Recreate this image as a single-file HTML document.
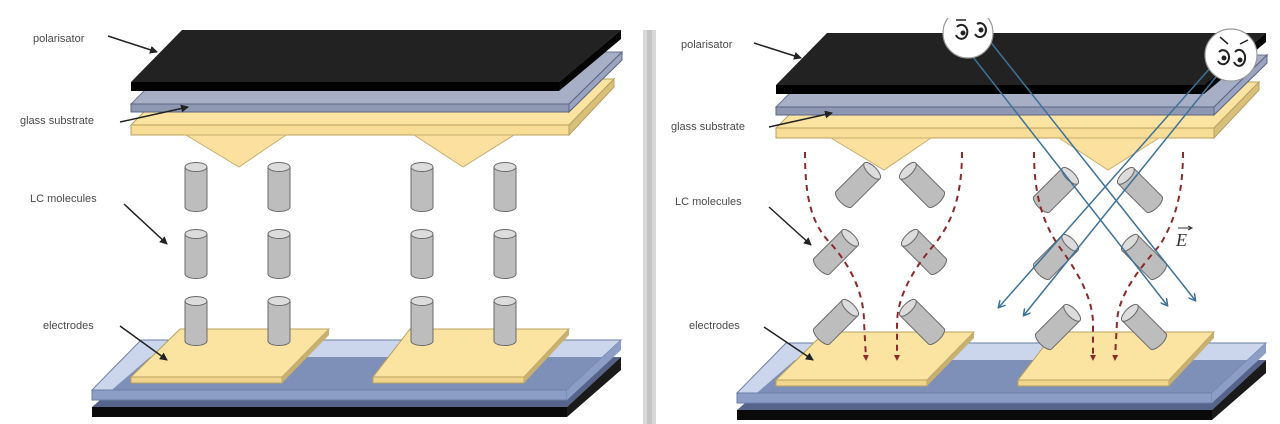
<!DOCTYPE html>
<html><head><meta charset="utf-8"><style>
html,body{margin:0;padding:0;background:#fff;}
svg{display:block;}
text{font-family:"Liberation Sans",sans-serif;font-size:11px;fill:#4a4a4a;}
</style></head><body>
<svg width="1280" height="424" viewBox="0 0 1280 424" xmlns="http://www.w3.org/2000/svg">
<defs>
<g id="cyl">
<path d="M-11,-20 L-11,20 A11,4.5 0 0 0 11,20 L11,-20 Z" fill="#bdbdbd" stroke="#6a6a6a" stroke-width="1"/>
<ellipse cx="0" cy="-20" rx="11" ry="4.5" fill="#dcdcdc" stroke="#6a6a6a" stroke-width="1"/>
</g>
<g id="stack">
<!-- bottom substrate -->
<polygon points="150,357 621,357 567,407 92,407" fill="#56648c"/>
<polygon points="92,407 567,407 567,417 92,417" fill="#0a0a0a"/>
<polygon points="567,407 621,357 621,370 567,417" fill="#1a1a1a"/>
<polygon points="141,340 621,340 567,390 92,390" fill="rgba(160,178,220,0.55)" stroke="#6e7ea6" stroke-width="1"/>
<polygon points="92,390 567,390 567,400 92,400" fill="#8c9dc6" stroke="#6e7ea6" stroke-width="1"/>
<polygon points="567,390 621,340 621,350 567,400" fill="#8c9dc6"/>
<!-- electrodes -->
<polygon points="180,329 329,329 282,377 131,377" fill="#fbe4a2" stroke="#b8a060" stroke-width="1"/>
<polygon points="131,377 282,377 282,383 131,383" fill="#f0d68c" stroke="#b8a060" stroke-width="1"/>
<polygon points="282,377 329,329 329,335 282,383" fill="#c8b070"/>
<polygon points="410,329 569,329 524,377 373,377" fill="#fbe4a2" stroke="#b8a060" stroke-width="1"/>
<polygon points="373,377 524,377 524,383 373,383" fill="#f0d68c" stroke="#b8a060" stroke-width="1"/>
<polygon points="524,377 569,329 569,335 524,383" fill="#c8b070"/>
<!-- yellow alignment plate -->
<polygon points="177,79 614,79 569,125 131,125" fill="#fbe4a2" stroke="#b8a060" stroke-width="1"/>
<polygon points="131,125 569,125 569,135 131,135" fill="#f8dd96" stroke="#b8a060" stroke-width="1"/>
<polygon points="569,125 614,79 614,87 569,135" fill="#d8c07a" stroke="#b8a060" stroke-width="1"/>
<polygon points="186,135 286,135 239,167" fill="#fbe0a0" stroke="#c8b070" stroke-width="1"/>
<polygon points="414,135 514,135 463,167" fill="#fbe0a0" stroke="#c8b070" stroke-width="1"/>
<!-- glass -->
<polygon points="183,52 622,52 569,104 131,104" fill="#a7afc6" stroke="#6c7590" stroke-width="1"/>
<polygon points="131,104 569,104 569,112 131,112" fill="#8e98b3" stroke="#5c6580" stroke-width="1"/>
<polygon points="569,104 622,52 622,60 569,112" fill="#9aa4c0" stroke="#5c6580" stroke-width="1"/>
<!-- polarizer -->
<polygon points="182,30 621,30 559,82 131,82" fill="#222"/>
<polygon points="131,82 559,82 559,91 131,91" fill="#000"/>
<polygon points="559,82 621,30 621,39 559,91" fill="#050505"/>
</g>
<marker id="ah" markerWidth="8" markerHeight="8" refX="6" refY="4" orient="auto" markerUnits="userSpaceOnUse"><path d="M0,0 L7,4 L0,8" fill="none" stroke="#3d7298" stroke-width="1.5"/></marker>
<marker id="rh" markerWidth="6" markerHeight="6" refX="3" refY="3" orient="auto" markerUnits="userSpaceOnUse"><path d="M0,0 L6,3 L0,6 Z" fill="#8b2a2a"/></marker>
<marker id="ka" markerWidth="8" markerHeight="8" refX="7" refY="4" orient="auto" markerUnits="userSpaceOnUse"><path d="M0,0 L8,4 L0,8 Z" fill="#222"/></marker>
</defs>

<!-- divider -->
<rect x="643" y="30" width="13" height="394" fill="#d8d8d8"/>
<rect x="647" y="30" width="5" height="394" fill="#c4c4c4"/>

<!-- LEFT PANEL -->
<use href="#stack"/>
<use href="#cyl" x="196" y="187"/><use href="#cyl" x="279" y="187"/><use href="#cyl" x="422" y="187"/><use href="#cyl" x="505" y="187"/>
<use href="#cyl" x="196" y="254"/><use href="#cyl" x="279" y="254"/><use href="#cyl" x="422" y="254"/><use href="#cyl" x="505" y="254"/>
<use href="#cyl" x="196" y="321"/><use href="#cyl" x="279" y="321"/><use href="#cyl" x="422" y="321"/><use href="#cyl" x="505" y="321"/>

<text x="33" y="42">polarisator</text>
<line x1="108" y1="36" x2="157" y2="52" stroke="#222" stroke-width="1.5" marker-end="url(#ka)"/>
<text x="20" y="124">glass substrate</text>
<line x1="120" y1="122" x2="188" y2="107" stroke="#222" stroke-width="1.5" marker-end="url(#ka)"/>
<text x="30" y="202">LC molecules</text>
<line x1="124" y1="204" x2="167" y2="244" stroke="#222" stroke-width="1.5" marker-end="url(#ka)"/>
<text x="43" y="329">electrodes</text>
<line x1="120" y1="326" x2="167" y2="360" stroke="#222" stroke-width="1.5" marker-end="url(#ka)"/>

<!-- RIGHT PANEL -->
<g transform="translate(645,3)"><use href="#stack"/></g>

<g transform="translate(858,185) rotate(45)"><use href="#cyl"/></g>
<g transform="translate(922,185) rotate(-45)"><use href="#cyl"/></g>
<g transform="translate(1056,190) rotate(45)"><use href="#cyl"/></g>
<g transform="translate(1140,190) rotate(-45)"><use href="#cyl"/></g>
<g transform="translate(836,252) rotate(45)"><use href="#cyl"/></g>
<g transform="translate(924,252) rotate(-45)"><use href="#cyl"/></g>
<g transform="translate(1056,257) rotate(45)"><use href="#cyl"/></g>
<g transform="translate(1144,257) rotate(-45)"><use href="#cyl"/></g>
<g transform="translate(836,322) rotate(45)"><use href="#cyl"/></g>
<g transform="translate(922,322) rotate(-45)"><use href="#cyl"/></g>
<g transform="translate(1058,327) rotate(45)"><use href="#cyl"/></g>
<g transform="translate(1144,327) rotate(-45)"><use href="#cyl"/></g>

<!-- dashed field lines -->
<g fill="none" stroke="#8b2a2a" stroke-width="2" stroke-dasharray="6,5" marker-end="url(#rh)">
<path d="M805,152 C805,200 812,225 832,245 C852,268 864,295 864,322 L866,358"/>
<path d="M962,152 C962,200 950,225 934,245 C914,268 898,295 897,322 L897,358"/>
<path d="M1034,152 C1034,200 1045,225 1058,245 C1075,268 1092,295 1093,322 L1093,358"/>
<path d="M1183,152 C1183,200 1172,225 1160,245 C1140,268 1118,295 1117,322 L1115,358"/>
</g>

<!-- light rays -->
<g stroke="#3d7298" stroke-width="1.5" fill="none" marker-end="url(#ah)">
<line x1="962" y1="43" x2="1167" y2="305"/>
<line x1="989" y1="40" x2="1195" y2="300"/>
<line x1="1211" y1="67" x2="999" y2="307"/>
<line x1="1228" y1="62" x2="1024" y2="315"/>
</g>

<!-- E vector -->
<text x="1176" y="246" style="font-family:'Liberation Serif',serif;font-style:italic;font-size:18px;fill:#333">E</text>
<line x1="1178" y1="228" x2="1191" y2="228" stroke="#333" stroke-width="1"/>
<path d="M1188,226 L1192,228 L1188,230" fill="none" stroke="#333" stroke-width="1"/>

<!-- eyes -->
<g>
<circle cx="968" cy="33" r="25" fill="#fff" stroke="#999" stroke-width="1.2"/>
<rect x="940" y="0" width="56" height="18" fill="#fff"/>
<path d="M957,27 a6,7 0 1 1 -1,8" fill="none" stroke="#222" stroke-width="2"/>
<circle cx="963" cy="33" r="2.5" fill="#222"/>
<path d="M977,24 a6,7 0 1 1 -2,10" fill="none" stroke="#222" stroke-width="2"/>
<circle cx="981" cy="30" r="2.5" fill="#222"/>
<line x1="956" y1="20" x2="966" y2="20" stroke="#222" stroke-width="1.5"/>
</g>
<g>
<circle cx="1231" cy="55" r="26" fill="#fff" stroke="#999" stroke-width="1.2"/>
<path d="M1219,52 a6,7 0 1 1 -1,9" fill="none" stroke="#222" stroke-width="2"/>
<circle cx="1224" cy="58" r="2.5" fill="#222"/>
<path d="M1235,52 a6,8 0 1 1 -1,10" fill="none" stroke="#222" stroke-width="2"/>
<circle cx="1240" cy="60" r="2.5" fill="#222"/>
<line x1="1220" y1="37" x2="1228" y2="44" stroke="#222" stroke-width="1.5"/>
<line x1="1240" y1="44" x2="1248" y2="40" stroke="#222" stroke-width="1.5"/>
</g>

<text x="681" y="48">polarisator</text>
<line x1="754" y1="43" x2="801" y2="58" stroke="#222" stroke-width="1.5" marker-end="url(#ka)"/>
<text x="671" y="130">glass substrate</text>
<line x1="769" y1="127" x2="832" y2="113" stroke="#222" stroke-width="1.5" marker-end="url(#ka)"/>
<text x="675" y="205">LC molecules</text>
<line x1="769" y1="207" x2="811" y2="245" stroke="#222" stroke-width="1.5" marker-end="url(#ka)"/>
<text x="689" y="329">electrodes</text>
<line x1="764" y1="327" x2="813" y2="360" stroke="#222" stroke-width="1.5" marker-end="url(#ka)"/>
</svg>
</body></html>
